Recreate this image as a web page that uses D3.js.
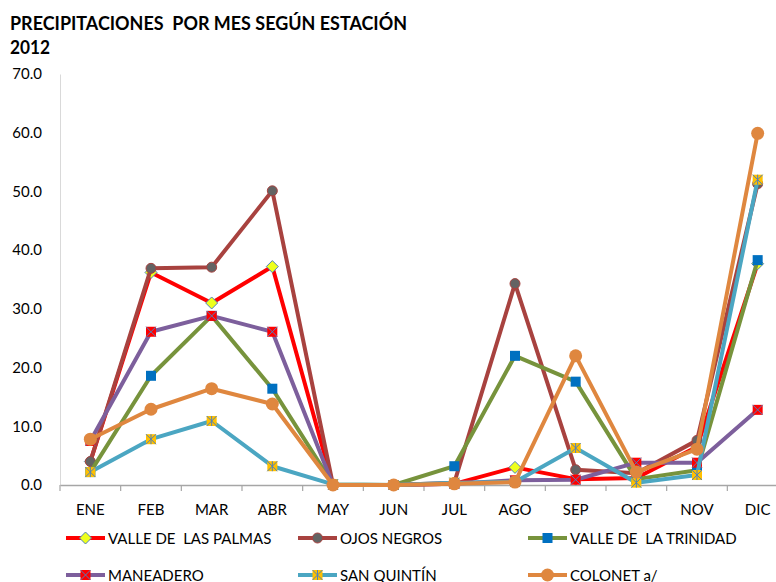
<!DOCTYPE html>
<html>
<head>
<meta charset="utf-8">
<script src="https://cdn.jsdelivr.net/npm/d3@7/dist/d3.min.js"></script>
<style>
  html, body { margin: 0; padding: 0; background: #fff; }
  svg { display: block; font-family: Lato, "Open Sans", sans-serif; }
</style>
</head>
<body>
<svg id="chart" width="776" height="582"></svg>
<script>
// Monthly precipitation (mm) per station, 2012
const months = ["ENE","FEB","MAR","ABR","MAY","JUN","JUL","AGO","SEP","OCT","NOV","DIC"];
const yTicks = [0, 10, 20, 30, 40, 50, 60, 70];

const valleLasPalmas   = [4.0, 36.2, 31.0, 37.2, 0.0, 0.0, 0.2, 3.0, 1.0, 1.2, 6.5, 37.7];
const ojosNegros       = [4.0, 36.9, 37.1, 50.1, 0.0, 0.0, 0.4, 34.3, 2.6, 2.0, 7.6, 51.3];
const valleTrinidad    = [2.2, 18.6, 28.8, 16.4, 0.1, 0.0, 3.2, 22.0, 17.6, 1.0, 2.5, 38.3];
const maneadero        = [7.5, 26.1, 28.8, 26.1, 0.0, 0.0, 0.2, 0.8, 0.9, 3.8, 3.8, 12.8];
const sanQuintin       = [2.2, 7.8, 10.9, 3.2, 0.1, 0.0, 0.4, 0.5, 6.3, 0.4, 1.7, 52.0];
const colonet          = [7.8, 12.9, 16.4, 13.8, 0.0, 0.0, 0.2, 0.5, 22.0, 2.2, 6.1, 59.9];

const stations = [
  { name: "VALLE DE  LAS PALMAS", values: valleLasPalmas, color: "#FF0000", marker: "diamond" },
  { name: "OJOS NEGROS",          values: ojosNegros,     color: "#A8423F", marker: "dot" },
  { name: "VALLE DE  LA TRINIDAD",values: valleTrinidad,  color: "#77933C", marker: "square" },
  { name: "MANEADERO",            values: maneadero,      color: "#7D5F9C", marker: "xsquare" },
  { name: "SAN QUINTÍN",          values: sanQuintin,     color: "#4BA6C2", marker: "star" },
  { name: "COLONET a/",           values: colonet,        color: "#DF873F", marker: "bigdot" }
];

const svg = d3.select("#chart");

const plot = { left: 60, right: 788, top: 74, bottom: 485 };

const x = d3.scaleBand().domain(months).range([plot.left, plot.right]);
const cx = m => x(m) + x.bandwidth() / 2;
const y = d3.scaleLinear().domain([0, 70]).range([plot.bottom, plot.top]);

// Title
const title = svg.append("g").attr("font-weight", "bold").attr("fill", "#000");
title.append("text").attr("x", 10).attr("y", 30)
  .attr("font-size", 18).attr("textLength", 397).attr("lengthAdjust", "spacingAndGlyphs")
  .style("white-space", "pre")
  .text("PRECIPITACIONES  POR MES SEGÚN ESTACIÓN");
title.append("text").attr("x", 10).attr("y", 54)
  .attr("font-size", 18).attr("textLength", 40).attr("lengthAdjust", "spacingAndGlyphs")
  .text("2012");

// Y axis
const yAxis = svg.append("g")
  .attr("transform", `translate(${plot.left},0)`)
  .call(d3.axisLeft(y).tickValues(yTicks).tickFormat(d3.format(".1f")).tickSize(0).tickPadding(18));
yAxis.select(".domain").attr("stroke", "#D9D9D9").attr("stroke-width", 1);
yAxis.selectAll("text").attr("font-size", 15).attr("fill", "#000")
  .attr("font-family", "Lato, sans-serif");

// X axis with boundary tick marks
const xAxis = svg.append("g")
  .attr("transform", `translate(0,${plot.bottom})`)
  .call(d3.axisBottom(x).tickSize(0).tickPadding(19));
xAxis.select(".domain").attr("stroke", "#A6A6A6").attr("stroke-width", 1.5);
xAxis.selectAll("text").attr("font-size", 15).attr("fill", "#000")
  .attr("font-family", "Lato, sans-serif");
const bounds = months.map(m => x(m)).concat([x.range()[1]]);
xAxis.selectAll("line.bound").data(bounds).enter().append("line")
  .attr("class", "bound")
  .attr("x1", d => d).attr("x2", d => d)
  .attr("y1", 0).attr("y2", 6)
  .attr("stroke", "#A6A6A6").attr("stroke-width", 1.2);

// Marker drawing
function drawMarker(g, type, color) {
  if (type === "diamond") {
    g.append("path").attr("d", "M0,-6L6,0L0,6L-6,0Z")
      .attr("fill", "#EEFF1C").attr("stroke", "#4F81BD").attr("stroke-width", 1);
  } else if (type === "dot") {
    g.append("circle").attr("r", 5).attr("fill", "#636363")
      .attr("stroke", color).attr("stroke-width", 1);
  } else if (type === "square") {
    g.append("rect").attr("x", -5).attr("y", -5).attr("width", 10).attr("height", 10)
      .attr("fill", "#0070C0");
  } else if (type === "xsquare") {
    g.append("rect").attr("x", -5).attr("y", -5).attr("width", 10).attr("height", 10)
      .attr("fill", "#FF0000");
    g.append("path").attr("d", "M-5,-5L5,5M-5,5L5,-5")
      .attr("stroke", "#4F81BD").attr("stroke-width", 1).attr("fill", "none");
  } else if (type === "star") {
    g.append("rect").attr("x", -5).attr("y", -5).attr("width", 10).attr("height", 10)
      .attr("fill", "#FFC000");
    g.append("path").attr("d", "M-5,-5L5,5M-5,5L5,-5M0,-5L0,5")
      .attr("stroke", "#4F81BD").attr("stroke-width", 1).attr("fill", "none");
  } else if (type === "bigdot") {
    g.append("circle").attr("r", 6.5).attr("fill", color);
  }
}

// Series lines and markers
const line = d3.line().x((d, i) => cx(months[i])).y(d => y(d));
const series = svg.append("g").attr("class", "series");
stations.forEach(s => {
  const g = series.append("g");
  g.append("path").datum(s.values)
    .attr("d", line)
    .attr("fill", "none")
    .attr("stroke", s.color)
    .attr("stroke-width", 4)
    .attr("stroke-linejoin", "round")
    .attr("stroke-linecap", "round");
  s.values.forEach((v, i) => {
    const mg = g.append("g").attr("transform", `translate(${cx(months[i])},${y(v)})`);
    drawMarker(mg, s.marker, s.color);
  });
});

// Legend
const legendCols = [66, 298, 528];
const legendRows = [538, 575];
const legend = svg.append("g").attr("class", "legend");
stations.forEach((s, i) => {
  const lx = legendCols[i % 3];
  const ly = legendRows[Math.floor(i / 3)];
  const g = legend.append("g").attr("transform", `translate(${lx},${ly})`);
  g.append("line").attr("x1", 0).attr("x2", 39).attr("y1", 0).attr("y2", 0)
    .attr("stroke", s.color).attr("stroke-width", 4);
  drawMarker(g.append("g").attr("transform", "translate(19.5,0)"), s.marker, s.color);
  g.append("text").attr("x", 42).attr("y", 5.5)
    .attr("font-size", 15).attr("fill", "#000")
    .style("white-space", "pre")
    .text(s.name);
});
</script>
</body>
</html>
